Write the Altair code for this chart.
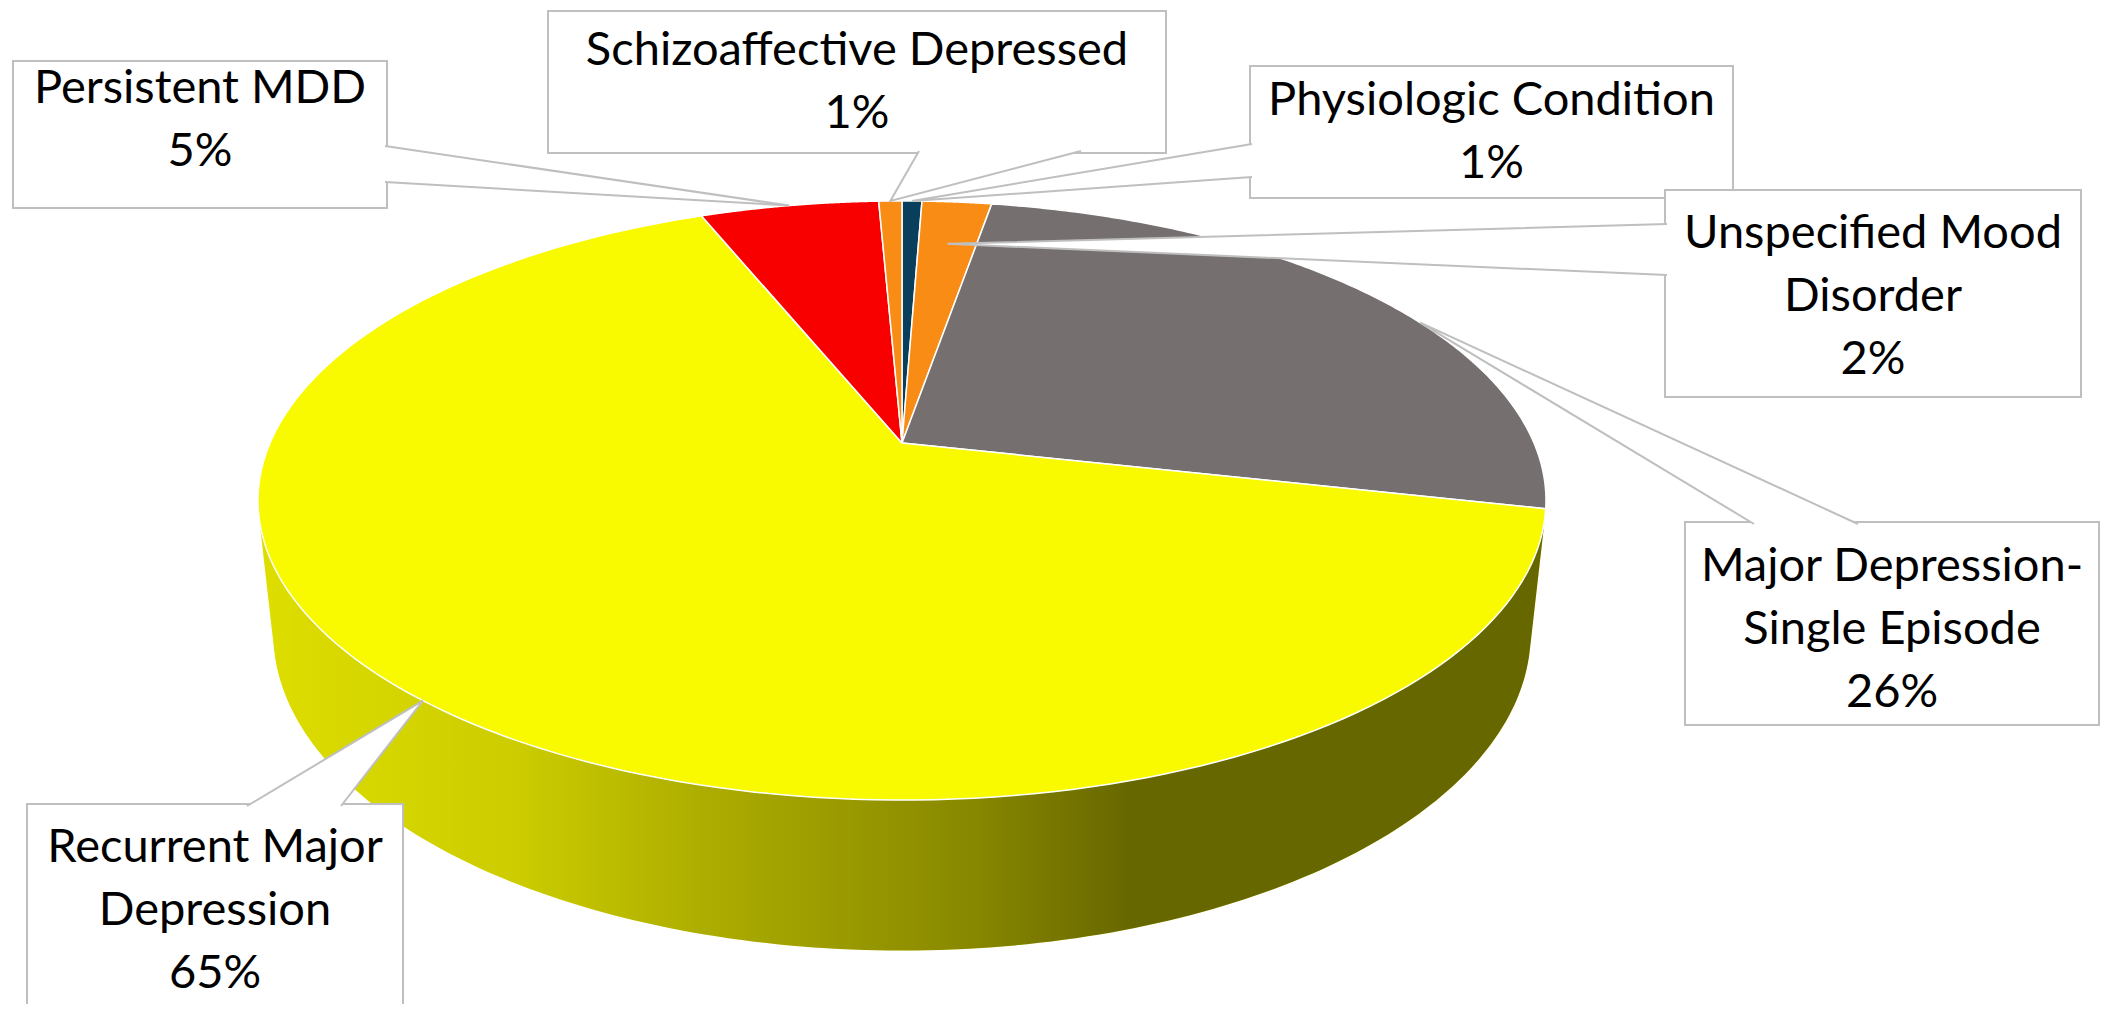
import math
import altair as alt
import pandas as pd

# ---------------- data ----------------
categories = [
    "Physiologic Condition",
    "Unspecified Mood Disorder",
    "Major Depression-Single Episode",
    "Recurrent Major Depression",
    "Persistent MDD",
    "Schizoaffective Depressed",
]
shares = [0.6, 2.1, 25.8, 65.4, 5.4, 0.7]
colors = ["#073f5c", "#f98c15", "#756f6f", "#f9f900", "#f90000", "#f98c15"]
label_lines = [
    "Physiologic Condition",
    "Unspecified Mood|Disorder",
    "Major Depression-|Single Episode",
    "Recurrent Major|Depression",
    "Persistent MDD",
    "Schizoaffective Depressed",
]

# ---------------- layout (page pixel space) ----------------
callout_box = {
    "Physiologic Condition": (1250, 66, 1733, 198),
    "Unspecified Mood Disorder": (1665, 190, 2081, 397),
    "Major Depression-Single Episode": (1685, 522, 2099, 725),
    "Recurrent Major Depression": (27, 804, 403, 1018),
    "Persistent MDD": (13, 61, 387, 208),
    "Schizoaffective Depressed": (548, 11, 1166, 153),
}
callout_text_dy = {
    "Physiologic Condition": 0,
    "Unspecified Mood Disorder": 3,
    "Major Depression-Single Episode": 6,
    "Recurrent Major Depression": 0,
    "Persistent MDD": -14,
    "Schizoaffective Depressed": 0,
}
callout_base = {
    "Physiologic Condition": ((1252, 144), (1252, 177)),
    "Unspecified Mood Disorder": ((1667, 224), (1667, 275)),
    "Major Depression-Single Episode": ((1754, 524), (1858, 524)),
    "Recurrent Major Depression": ((247, 806), (341, 806)),
    "Persistent MDD": ((385, 146), (385, 182)),
    "Schizoaffective Depressed": ((919, 151), (1081, 151)),
}
callout_tip_r = {
    "Physiologic Condition": 1.0,
    "Unspecified Mood Disorder": 0.8,
    "Major Depression-Single Episode": 1.0,
    "Recurrent Major Depression": 1.0,
    "Persistent MDD": 1.0,
    "Schizoaffective Depressed": 1.0,
}
callout_tip_dtheta = {  # angular shift of the pointer tip (radians)
    "Physiologic Condition": 0.0,
    "Unspecified Mood Disorder": 0.0,
    "Major Depression-Single Episode": 0.12,
    "Recurrent Major Depression": 0.0,
    "Persistent MDD": 0.0,
    "Schizoaffective Depressed": 0.0,
}

# 3D projection parameters
CX, CY = 902.0, 443.0      # apex of the pie on the page
R = 632.0                  # pie radius
ELEV = math.asin(0.4565)   # viewing elevation
SE, CE = math.sin(ELEV), math.cos(ELEV)
D = 2929.0                 # camera distance
T = 150.0                  # pie thickness
N = 160                    # points per arc
V0 = math.acos(-R / (D * CE))   # visible side-wall range
V1 = 2 * math.pi - V0
LH = 63                    # label line height

W, H = 2110, 996
xs = alt.Scale(domain=[8, 8 + W], nice=False, zero=False)
ys = alt.Scale(domain=[8, 8 + H], nice=False, zero=False, reverse=True)

rows = []
for i, c in enumerate(categories):
    b = callout_box[c]
    p1, p2 = callout_base[c]
    rows.append(dict(category=c, share=shares[i], color=colors[i], order=i,
                     label=label_lines[i], bx0=b[0], by0=b[1], bx1=b[2], by1=b[3],
                     tdy=callout_text_dy[c],
                     p1x=p1[0], p1y=p1[1], p2x=p2[0], p2y=p2[1],
                     tipr=callout_tip_r[c], tipdt=callout_tip_dtheta[c]))
df = pd.DataFrame(rows)


def proj_x(X, Y, Z):
    return f"{CX} + ({X})*{D}/({D} + ({Z})*{CE} - ({Y})*{SE})"


def proj_y(X, Y, Z):
    return f"{CY} - (({Y})*{CE} + ({Z})*{SE})*{D}/({D} + ({Z})*{CE} - ({Y})*{SE})"


base = (
    alt.Chart(df)
    .transform_window(cum="sum(share)", sort=[alt.SortField("order")], frame=[None, 0])
    .transform_joinaggregate(total="sum(share)")
    .transform_calculate(
        a0="2*PI*(datum.cum - datum.share)/datum.total",
        a1="2*PI*datum.cum/datum.total",
    )
)

enc_xy = dict(
    x=alt.X("px:Q", scale=xs, axis=None),
    y=alt.Y("py:Q", scale=ys, axis=None),
)

# side walls (front, visible part)
walls_data = (
    base.transform_calculate(lo=f"max(datum.a0, {V0})", hi=f"min(datum.a1, {V1})")
    .transform_filter("datum.hi > datum.lo")
    .transform_calculate(s=f"sequence(0, {2 * N + 2})")
    .transform_flatten(["s"])
    .transform_calculate(
        th=f"datum.s <= {N} ? datum.lo + (datum.hi - datum.lo)*datum.s/{N} : datum.hi - (datum.hi - datum.lo)*(datum.s - {N + 1})/{N}",
        yy=f"datum.s <= {N} ? 0 : {-T}",
    )
    .transform_calculate(
        px=proj_x(f"{R}*sin(datum.th)", "datum.yy", f"{R}*cos(datum.th)"),
        py=proj_y(f"{R}*sin(datum.th)", "datum.yy", f"{R}*cos(datum.th)"),
    )
)
walls = walls_data.mark_line(strokeWidth=0, strokeOpacity=0).encode(
    order="s:Q", detail="category:N", fill=alt.Fill("color:N", scale=None), **enc_xy
)
shade = walls_data.mark_line(
    strokeWidth=0,
    strokeOpacity=0,
    fill=alt.Gradient(
        gradient="linear",
        x1=0, x2=1, y1=0, y2=0,
        stops=[
            alt.GradientStop(color="rgba(0,0,0,0.11)", offset=0),
            alt.GradientStop(color="rgba(0,0,0,0.18)", offset=0.2),
            alt.GradientStop(color="rgba(0,0,0,0.31)", offset=0.35),
            alt.GradientStop(color="rgba(0,0,0,0.45)", offset=0.55),
            alt.GradientStop(color="rgba(0,0,0,0.59)", offset=0.68),
            alt.GradientStop(color="rgba(0,0,0,0.59)", offset=1),
        ],
    ),
).encode(order="s:Q", detail="category:N", **enc_xy)

# top faces
top = (
    base.transform_calculate(s=f"sequence(0, {N + 3})")
    .transform_flatten(["s"])
    .transform_calculate(
        rr=f"(datum.s == 0 || datum.s == {N + 2}) ? 0 : 1",
        th=f"datum.a0 + (datum.a1 - datum.a0)*clamp(datum.s - 1, 0, {N})/{N}",
    )
    .transform_calculate(
        px=proj_x(f"datum.rr*{R}*sin(datum.th)", "0", f"datum.rr*{R}*cos(datum.th)"),
        py=proj_y(f"datum.rr*{R}*sin(datum.th)", "0", f"datum.rr*{R}*cos(datum.th)"),
    )
    .mark_line(stroke="#ffffff", strokeWidth=1.5, strokeJoin="round")
    .encode(order="s:Q", detail="category:N", fill=alt.Fill("color:N", scale=None), **enc_xy)
)

# callout boxes
boxes = alt.Chart(df).mark_rect(fill="white", stroke="#bfbfbf", strokeWidth=2).encode(
    x=alt.X("bx0:Q", scale=xs, axis=None),
    x2="bx1:Q",
    y=alt.Y("by0:Q", scale=ys, axis=None),
    y2="by1:Q",
)

# callout pointers
tipX = f"datum.tipr*{R}*sin(datum.tm)"
tipZ = f"datum.tipr*{R}*cos(datum.tm)"
pointers = (
    base.transform_calculate(s="sequence(0, 3)")
    .transform_flatten(["s"])
    .transform_calculate(tm="(datum.a0 + datum.a1)/2 + datum.tipdt")
    .transform_calculate(
        px=f"datum.s == 0 ? datum.p1x : (datum.s == 2 ? datum.p2x : {proj_x(tipX, '0', tipZ)})",
        py=f"datum.s == 0 ? datum.p1y : (datum.s == 2 ? datum.p2y : {proj_y(tipX, '0', tipZ)})",
    )
    .mark_line(fill="white", stroke="#bfbfbf", strokeWidth=2, strokeJoin="miter")
    .encode(order="s:Q", detail="category:N", **enc_xy)
)

# callout texts
texts = (
    base.transform_calculate(
        txt="datum.label + '|' + format(datum.share/datum.total, '.0%')",
    )
    .transform_calculate(
        tx="(datum.bx0 + datum.bx1)/2",
        ty=f"(datum.by0 + datum.by1)/2 + datum.tdy - (length(split(datum.txt, '|')) - 1)*{LH / 2}",
    )
    .mark_text(lineBreak="|", font="Lato", fontSize=47, lineHeight=LH,
               align="center", baseline="middle", color="#000000")
    .encode(
        x=alt.X("tx:Q", scale=xs, axis=None),
        y=alt.Y("ty:Q", scale=ys, axis=None),
        text="txt:N",
    )
)

chart = (
    alt.layer(walls, shade, top, boxes, pointers, texts)
    .properties(width=W, height=H, padding=0, autosize=alt.AutoSizeParams(type="none"))
    .configure_view(strokeWidth=0)
)

chart.save("out.html", embed_options={"renderer": "svg", "actions": False})
